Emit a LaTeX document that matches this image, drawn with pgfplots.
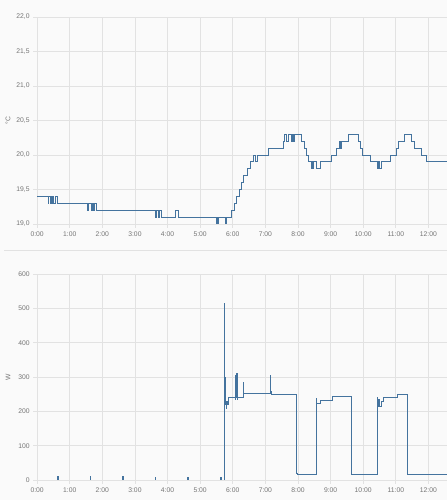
\documentclass[border=0pt]{standalone}
\usepackage{pgfplots}
\pgfplotsset{compat=1.18}
\usepackage{fontspec}
\setmainfont{Liberation Sans}
\definecolor{bg}{HTML}{FAFAFA}
\definecolor{gridc}{HTML}{E2E2E2}
\definecolor{tickc}{HTML}{757575}
\definecolor{lineblue}{HTML}{44739E}
\pgfplotsset{
  ha/.style={
    scale only axis, anchor=south west,
    width=409.9bp,
    xmin=0, xmax=12.57,
    xtick={0,1,...,12},
    xticklabels={0:00,1:00,2:00,3:00,4:00,5:00,6:00,7:00,8:00,9:00,10:00,11:00,12:00},
    grid=major,
    major grid style={gridc, line width=0.8bp},
    axis line style={draw=none},
    tick pos=left,
    tick align=outside,
    major tick length=4bp,
    major tick style={gridc, line width=0.8bp},
    tick label style={font=\fontsize{6.8}{8}\selectfont, text=tickc},
    /pgf/number format/assume math mode=true,
    ylabel style={font=\fontsize{6.8}{8}\selectfont, text=tickc, at={(axis description cs:-0.071,0.5)}, anchor=center},
  },
  hl/.style={const plot, line width=0.8bp, color=lineblue, mark=none}
}
\begin{document}
\begin{tikzpicture}[x=1bp,y=1bp]
\path[use as bounding box, fill=bg] (0,0) rectangle (447,500);
\draw[gridc, line width=0.8bp] (4,250) -- (447,250);
\begin{axis}[ha, at={(37.1bp,276bp)}, height=207bp,
  ymin=19, ymax=22, ytick={19,19.5,20,20.5,21,21.5,22},
  yticklabel style={/pgf/number format/.cd, fixed, fixed zerofill, precision=1, use comma},
  ylabel={°C}]
\addplot[hl] coordinates {
(0,19.4) (0.34,19.3) (0.36,19.4) (0.40,19.3) (0.42,19.4) (0.45,19.3) (0.47,19.4)
(0.50,19.3) (0.56,19.4) (0.62,19.3) (1.53,19.2) (1.56,19.3) (1.67,19.2) (1.70,19.3)
(1.73,19.2) (1.76,19.3) (1.83,19.2) (3.62,19.1) (3.66,19.2) (3.71,19.1) (3.76,19.2)
(3.80,19.1) (4.23,19.2) (4.34,19.1) (5.49,19.0) (5.51,19.1) (5.53,19.0) (5.56,19.1)
(5.78,19.0) (5.80,19.1) (5.97,19.2) (6.04,19.3) (6.10,19.4) (6.20,19.5) (6.28,19.6)
(6.33,19.7) (6.45,19.8) (6.53,19.9) (6.63,20.0) (6.70,19.9) (6.75,20.0) (7.09,20.1)
(7.55,20.2) (7.59,20.3) (7.66,20.2) (7.70,20.3) (7.80,20.2) (7.83,20.3) (7.86,20.2)
(7.88,20.3) (8.12,20.2) (8.20,20.1) (8.25,20.0) (8.32,19.9) (8.40,19.8) (8.42,19.9)
(8.44,19.8) (8.46,19.9) (8.55,19.8) (8.70,19.9) (9.02,20.0) (9.17,20.1) (9.26,20.2)
(9.28,20.1) (9.30,20.2) (9.32,20.1) (9.34,20.2) (9.55,20.3) (9.85,20.2) (9.92,20.1)
(9.96,20.0) (10.23,19.9) (10.42,19.8) (10.44,19.9) (10.46,19.8) (10.48,19.9) (10.50,19.8)
(10.57,19.9) (10.83,20.0) (11.01,20.1) (11.08,20.2) (11.25,20.3) (11.49,20.2) (11.57,20.1)
(11.78,20.0) (11.95,19.9) (12.57,19.9)
};
\end{axis}
\begin{axis}[ha, at={(37.1bp,20bp)}, height=205.7bp,
  ymin=0, ymax=600, ytick={0,100,...,600},
  ylabel={W}]
\addplot[hl] coordinates {
(0,0) (0.62,10) (0.64,0) (1.62,10) (1.64,0) (2.63,10) (2.65,0) (3.62,8) (3.64,0)
(4.61,8) (4.63,0) (5.63,9) (5.65,0) (5.73,515) (5.75,300) (5.76,230) (5.77,280)
(5.78,220) (5.80,210) (5.82,230) (5.84,220) (5.87,241) (6.07,300) (6.08,235)
(6.09,305) (6.11,240) (6.12,311) (6.13,235) (6.15,241) (6.33,284) (6.34,253)
(7.14,304) (7.15,258) (7.17,249) (7.96,20) (7.98,15) (8.55,238) (8.58,222)
(8.70,233) (9.07,245) (9.65,15) (10.42,241) (10.44,214) (10.47,235) (10.50,215)
(10.55,228) (10.62,240) (11.05,251) (11.34,15) (12.57,15)
};
\end{axis}
\end{tikzpicture}
\end{document}
